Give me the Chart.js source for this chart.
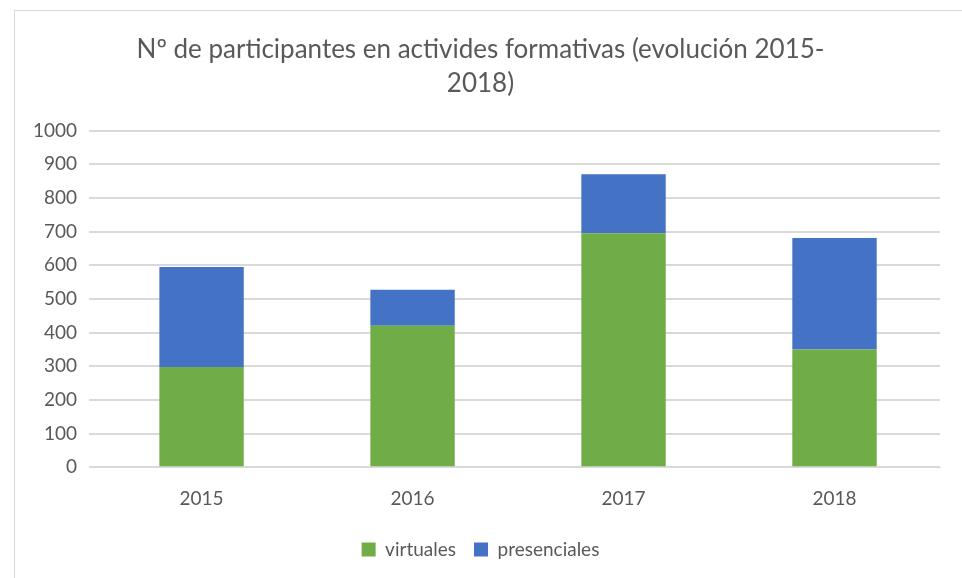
<!DOCTYPE html>
<html lang="es">
<head>
  <meta charset="UTF-8" />
  <title>Participantes en actividades formativas</title>
  <script src="https://cdn.jsdelivr.net/npm/chart.js"></script>
  <style>
    body { margin: 0; background: #fff; }
    #frame { position: absolute; left: 14px; top: 10px; width: 960px; height: 580px; border: 1px solid #d9d9d9; box-sizing: border-box; }
    #wrap { position: absolute; left: 0; top: 0; width: 962px; height: 578px; }
  </style>
</head>
<body>
  <div id="frame"></div>
  <div id="wrap"><canvas id="chart"></canvas></div>
  <script>
    const years = ["2015", "2016", "2017", "2018"];
    const virtuales = [298, 420, 695, 350];
    const presenciales = [297, 107, 175, 331];
    const yTicks = [0, 100, 200, 300, 400, 500, 600, 700, 800, 900, 1000];

    const font = "'Lato', 'Open Sans', sans-serif";

    new Chart(document.getElementById("chart"), {
      type: "bar",
      data: {
        labels: years,
        datasets: [
          { label: "virtuales", data: virtuales, backgroundColor: "#70ad47", categoryPercentage: 1, barPercentage: 0.4 },
          { label: "presenciales", data: presenciales, backgroundColor: "#4472c4", categoryPercentage: 1, barPercentage: 0.4 }
        ]
      },
      options: {
        responsive: true,
        maintainAspectRatio: false,
        animation: false,
        layout: { padding: { left: 21, right: 22, top: 33, bottom: 9 } },
        plugins: {
          title: {
            display: true,
            text: ["Nº de participantes en activides formativas (evolución 2015-", "2018)"],
            color: "#595959",
            font: { family: font, size: 26, weight: "normal", lineHeight: 1.3 },
            padding: { top: 0, bottom: 30 }
          },
          legend: {
            position: "bottom",
            labels: { color: "#595959", font: { family: font, size: 19 }, boxWidth: 14, boxHeight: 14, padding: 18 }
          },
          tooltip: { enabled: false }
        },
        scales: {
          x: {
            stacked: true,
            grid: { display: false },
            border: { color: "#d9d9d9" },
            ticks: { color: "#595959", font: { family: font, size: 19 }, padding: 12 }
          },
          y: {
            stacked: true,
            min: 0,
            max: 1000,
            afterBuildTicks: axis => { axis.ticks = yTicks.map(v => ({ value: v })); },
            grid: { color: "#d9d9d9", lineWidth: 2, drawTicks: true, tickLength: 7 },
            border: { display: false },
            ticks: { color: "#595959", font: { family: font, size: 19 }, padding: 12, callback: v => String(v) }
          }
        }
      }
    });
  </script>
</body>
</html>
